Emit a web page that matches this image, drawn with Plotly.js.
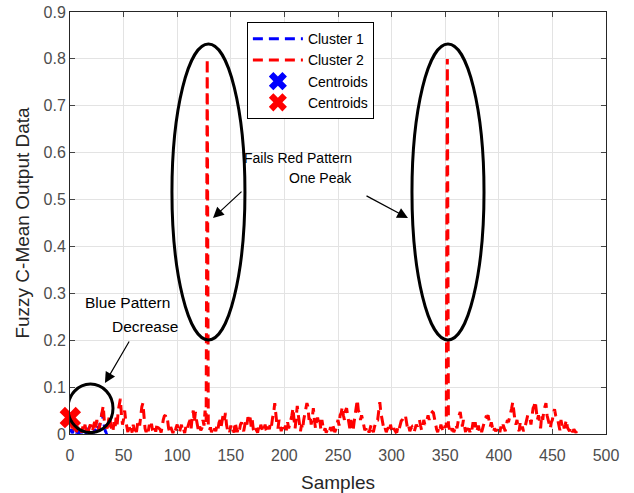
<!DOCTYPE html>
<html>
<head>
<meta charset="utf-8">
<script src="https://cdn.plot.ly/plotly-3.0.1.min.js"></script>
<style>
  html, body { margin: 0; padding: 0; background: #fff; }
  #chart { width: 634px; height: 493px; }
</style>
</head>
<body>
<div id="chart"></div>
<script>
// Fuzzy C-Mean output, cluster 2 (all samples 0..476)
const cluster2Values = [
  0.030, 0.020, 0.012, 0.025, 0.008, 0.018, 0.004, 0.015, 0.010, 0.006,
  0.012, 0.003, 0.016, 0.008, 0.020, 0.006, 0.010, 0.004, 0.014, 0.020,
  0.010, 0.005, 0.018, 0.026, 0.012, 0.030, 0.016, 0.008, 0.022, 0.035,
  0.048, 0.060, 0.028, 0.012, 0.020, 0.006, 0.030, 0.040, 0.018, 0.010,
  0.004, 0.025, 0.012, 0.035, 0.020, 0.050, 0.062, 0.075, 0.040, 0.020,
  0.032, 0.050, 0.028, 0.010, 0.004, 0.018, 0.008, 0.012, 0.003, 0.020,
  0.006, 0.014, 0.004, 0.022, 0.030, 0.018, 0.045, 0.058, 0.066, 0.030,
  0.012, 0.004, 0.016, 0.006, 0.020, 0.010, 0.022, 0.008, 0.003, 0.012,
  0.005, 0.018, 0.008, 0.012, 0.010, 0.003, 0.020, 0.030, 0.038, 0.040,
  0.028, 0.030, 0.012, 0.004, 0.015, 0.006, 0.002, 0.010, 0.004, 0.014,
  0.020, 0.008, 0.003, 0.012, 0.020, 0.006, 0.010, 0.002, 0.015, 0.008,
  0.018, 0.024, 0.030, 0.012, 0.036, 0.050, 0.025, 0.047, 0.030, 0.010,
  0.004, 0.016, 0.008, 0.012, 0.030, 0.018, 0.050, 0.026, 0.800, 0.020,
  0.008, 0.014, 0.004, 0.010, 0.003, 0.012, 0.006, 0.018, 0.010, 0.024,
  0.030, 0.016, 0.035, 0.043, 0.030, 0.045, 0.020, 0.008, 0.012, 0.004,
  0.018, 0.006, 0.010, 0.003, 0.025, 0.012, 0.004, 0.014, 0.008, 0.020,
  0.025, 0.012, 0.006, 0.018, 0.030, 0.020, 0.036, 0.028, 0.035, 0.016,
  0.030, 0.010, 0.004, 0.012, 0.008, 0.003, 0.014, 0.006, 0.020, 0.010,
  0.004, 0.012, 0.020, 0.008, 0.003, 0.016, 0.010, 0.025, 0.018, 0.035,
  0.045, 0.066, 0.040, 0.020, 0.012, 0.030, 0.020, 0.006, 0.014, 0.004,
  0.010, 0.018, 0.008, 0.025, 0.012, 0.025, 0.030, 0.040, 0.055, 0.030,
  0.012, 0.035, 0.060, 0.040, 0.015, 0.006, 0.020, 0.010, 0.030, 0.045,
  0.050, 0.066, 0.058, 0.030, 0.040, 0.020, 0.035, 0.055, 0.030, 0.012,
  0.025, 0.035, 0.020, 0.030, 0.010, 0.030, 0.016, 0.006, 0.012, 0.003,
  0.008, 0.010, 0.004, 0.015, 0.006, 0.020, 0.012, 0.004, 0.010, 0.020,
  0.030, 0.018, 0.040, 0.045, 0.058, 0.040, 0.030, 0.050, 0.055, 0.040,
  0.020, 0.012, 0.030, 0.018, 0.006, 0.025, 0.040, 0.060, 0.073, 0.050,
  0.045, 0.030, 0.040, 0.030, 0.016, 0.008, 0.012, 0.004, 0.010, 0.003,
  0.012, 0.020, 0.008, 0.004, 0.015, 0.022, 0.030, 0.030, 0.050, 0.068,
  0.045, 0.030, 0.018, 0.008, 0.012, 0.004, 0.010, 0.014, 0.006, 0.020,
  0.008, 0.003, 0.012, 0.006, 0.004, 0.005, 0.016, 0.010, 0.020, 0.028,
  0.030, 0.035, 0.040, 0.038, 0.020, 0.010, 0.016, 0.006, 0.012, 0.015,
  0.010, 0.004, 0.012, 0.020, 0.016, 0.025, 0.030, 0.018, 0.008, 0.012,
  0.030, 0.020, 0.025, 0.030, 0.040, 0.030, 0.042, 0.045, 0.047, 0.045,
  0.030, 0.018, 0.010, 0.004, 0.014, 0.008, 0.020, 0.012, 0.004, 0.010,
  0.018, 0.014, 0.800, 0.020, 0.010, 0.016, 0.006, 0.012, 0.004, 0.010,
  0.020, 0.012, 0.030, 0.040, 0.047, 0.030, 0.016, 0.030, 0.010, 0.004,
  0.020, 0.008, 0.012, 0.004, 0.016, 0.010, 0.025, 0.012, 0.025, 0.005,
  0.010, 0.018, 0.006, 0.012, 0.004, 0.014, 0.020, 0.030, 0.036, 0.035,
  0.040, 0.030, 0.016, 0.025, 0.010, 0.004, 0.012, 0.006, 0.010, 0.005,
  0.012, 0.004, 0.016, 0.008, 0.020, 0.012, 0.006, 0.018, 0.030, 0.025,
  0.035, 0.040, 0.055, 0.068, 0.045, 0.030, 0.020, 0.030, 0.012, 0.006,
  0.025, 0.010, 0.016, 0.006, 0.010, 0.020, 0.030, 0.040, 0.040, 0.035,
  0.020, 0.045, 0.055, 0.060, 0.070, 0.050, 0.030, 0.040, 0.025, 0.012,
  0.040, 0.030, 0.050, 0.060, 0.066, 0.040, 0.030, 0.020, 0.012, 0.025,
  0.030, 0.045, 0.053, 0.040, 0.030, 0.030, 0.016, 0.008, 0.030, 0.018,
  0.025, 0.012, 0.020, 0.030, 0.014, 0.010, 0.006, 0.015, 0.008, 0.004,
  0.010, 0.006, 0.003, 0.008, 0.008, 0.004, 0.002
];

// Fuzzy C-Mean output, cluster 1 (first samples only)
const cluster1Values = [
  0.004, 0.010, 0.002, 0.006, 0.003, 0.008, 0.002, 0.005, 0.001, 0.004,
  0.006, 0.002, 0.008, 0.003, 0.005, 0.002, 0.004, 0.010, 0.014, 0.008,
  0.004, 0.006, 0.002, 0.010, 0.006, 0.012, 0.020, 0.010, 0.025, 0.035,
  0.045, 0.030, 0.012, 0.006, 0.002, 0.004
];

// Cluster centroids [sample, value]
const centroid1 = [-0.8, 0.032];
const centroid2 = [0.3, 0.035];

const xTicks = [0, 50, 100, 150, 200, 250, 300, 350, 400, 450, 500];
const yTicks = [0, 0.1, 0.2, 0.3, 0.4, 0.5, 0.6, 0.7, 0.8, 0.9];
const yTickText = ['0', '0.1', '0.2', '0.3', '0.4', '0.5', '0.6', '0.7', '0.8', '0.9'];

const idx = (arr) => arr.map((_, i) => i);

const FONT = 'Liberation Sans, Arial, sans-serif';
const DASH = '10px,6px';

const traces = [
  {
    x: idx(cluster1Values), y: cluster1Values, type: 'scatter', mode: 'lines',
    name: 'Cluster 1',
    line: { color: '#0000ff', width: 3, dash: DASH }
  },
  {
    x: idx(cluster2Values), y: cluster2Values, type: 'scatter', mode: 'lines',
    name: 'Cluster 2',
    line: { color: '#ff0000', width: 3, dash: DASH }
  },
  {
    x: [centroid1[0]], y: [centroid1[1]], type: 'scatter', mode: 'markers',
    name: 'Centroids', cliponaxis: false,
    marker: { symbol: 'x', size: 19, color: '#0000ff', line: { width: 0 } }
  },
  {
    x: [centroid2[0]], y: [centroid2[1]], type: 'scatter', mode: 'markers',
    name: 'Centroids', cliponaxis: false,
    marker: { symbol: 'x', size: 19, color: '#ff0000', line: { width: 0 } }
  }
];

// Highlight ellipses around the peaks and the early blue section
const ellipse = (x0, x1, y0, y1) => ({
  type: 'circle', xref: 'x', yref: 'y', x0, x1, y0, y1,
  line: { color: '#000', width: 3 }, fillcolor: 'rgba(0,0,0,0)'
});

const arrow = (x, y, ax, ay) => ({
  x, y, ax, ay, xref: 'x', yref: 'y', axref: 'x', ayref: 'y',
  text: '', showarrow: true, arrowhead: 2, arrowsize: 1.8, arrowwidth: 1.2,
  arrowcolor: '#000'
});

const label = (text, x, y, xanchor, size) => ({
  text, x, y, xref: 'x', yref: 'y', xanchor, yanchor: 'middle',
  showarrow: false, font: { family: FONT, size, color: '#000' }
});

const layout = {
  width: 634, height: 493,
  margin: { l: 70, r: 28, t: 12, b: 59 },
  paper_bgcolor: '#fff', plot_bgcolor: '#fff',
  font: { family: FONT, size: 16, color: '#4d4d4d' },
  showlegend: true,
  legend: {
    x: 0.33, y: 0.976, xanchor: 'left', yanchor: 'top',
    bgcolor: '#fff', bordercolor: '#000', borderwidth: 1,
    font: { family: FONT, size: 14, color: '#000' },
    itemwidth: 50, tracegroupgap: 0
  },
  xaxis: {
    range: [0, 500], tickvals: xTicks, ticks: 'inside', ticklen: 5,
    showline: true, mirror: 'ticks', linecolor: '#262626', linewidth: 1,
    showgrid: true, gridcolor: '#e3e3e3', zeroline: false,
    tickfont: { family: FONT, size: 16, color: '#4d4d4d' },
    ticklabelstandoff: 7,
    title: { text: 'Samples', font: { family: FONT, size: 19, color: '#262626' }, standoff: 12 }
  },
  yaxis: {
    range: [0, 0.9], tickvals: yTicks, ticktext: yTickText, ticks: 'inside', ticklen: 5,
    showline: true, mirror: 'ticks', linecolor: '#262626', linewidth: 1,
    showgrid: true, gridcolor: '#e3e3e3', zeroline: false,
    tickfont: { family: FONT, size: 16, color: '#4d4d4d' },
    title: { text: 'Fuzzy C-Mean Output Data', font: { family: FONT, size: 19, color: '#262626' }, standoff: 8 }
  },
  shapes: [
    ellipse(95.1, 163.2, 0.2004, 0.8316),
    ellipse(319.0, 386.2, 0.2004, 0.8316),
    ellipse(-1.9, 40.1, 0.003, 0.1066)
  ],
  annotations: [
    arrow(133.4, 0.4606, 161.4, 0.520),
    arrow(315.3, 0.4606, 275.2, 0.5096),
    arrow(32.6, 0.1087, 56.0, 0.2004),
    label('Fails Red Pattern', 264.5, 0.589, 'right', 14),
    label('One Peak', 264.5, 0.546, 'right', 14),
    label('Blue Pattern', 12.1, 0.281, 'left', 15.5),
    label('Decrease', 37.3, 0.230, 'left', 15.5)
  ]
};

Plotly.newPlot('chart', traces, layout, { displayModeBar: false, staticPlot: true });
</script>
</body>
</html>
